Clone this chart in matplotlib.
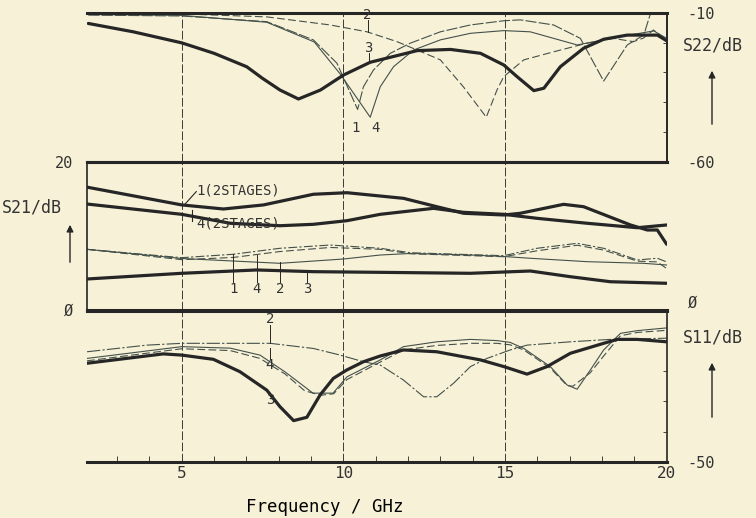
import matplotlib.pyplot as plt
from matplotlib.patches import FancyArrowPatch
from matplotlib.ticker import MultipleLocator

W, H = 756, 518

# ---- S22 (top panel), frequency in GHz, level in dB ----
s22_f3 = [2.11, 3.5, 5.0, 6.0, 7.01, 7.5, 8.04, 8.61, 9.29, 10.0, 10.83, 12.28, 13.31,
          14.24, 14.96, 15.37, 15.89, 16.2, 16.71, 17.43, 18.05, 18.78, 19.71, 20.0]
s22_db3 = [-13.6, -16.4, -20.1, -23.6, -28.1, -32.0, -35.9, -38.9, -35.9, -30.9, -26.6,
           -22.7, -22.3, -23.6, -27.5, -31.4, -36.1, -35.3, -28.1, -21.9, -18.9, -17.5,
           -17.5, -19.4]
s22_f1 = [2.11, 5.0, 7.63, 9.07, 9.8, 10.44, 10.62, 10.93, 11.45, 12.07, 13.0, 13.93,
          14.96, 15.47, 16.5, 17.33, 18.05, 18.78, 19.29, 19.5, 20.0]
s22_db1 = [-10.8, -11.1, -13.0, -19.1, -26.9, -42.4, -34.8, -29.2, -23.6, -20.2, -16.4,
           -14.1, -12.7, -12.4, -14.1, -18.6, -32.9, -20.8, -17.5, -10.2, -10.0]
s22_f4 = [2.11, 5.0, 7.63, 9.1, 9.9, 10.83, 11.14, 11.55, 12.17, 13.0, 13.93, 14.96,
          15.78, 17.23, 18.57, 19.6, 20.0]
s22_db4 = [-10.6, -10.9, -13.2, -19.8, -30.5, -45.0, -34.8, -28.1, -22.5, -19.1, -16.9,
           -16.0, -16.4, -20.8, -18.0, -16.1, -18.6]
s22_f2 = [2.11, 5.0, 7.63, 9.59, 10.73, 11.66, 12.28, 13.0, 13.71, 14.42, 14.75, 14.96,
          15.58, 16.5, 17.54, 18.35, 18.97, 19.28, 19.59, 20.0]
s22_db2 = [-10.4, -10.4, -11.4, -14.1, -16.4, -19.7, -22.5, -25.8, -34.8, -45.0, -35.9,
           -31.4, -25.8, -23.1, -20.2, -18.6, -19.7, -18.5, -15.8, -19.1]

# ---- S21 (middle panel) ----
s21_f1s = [2.07, 5.0, 6.29, 7.53, 9.07, 10.11, 11.86, 12.89, 13.72, 14.96, 15.47, 16.81,
           17.43, 18.88, 19.4, 19.71, 20.0]
s21_db1s = [16.6, 14.2, 13.65, 14.2, 15.64, 15.85, 15.09, 13.96, 13.07, 12.84, 13.07,
            14.28, 13.96, 11.49, 10.81, 10.81, 8.88]
s21_f4s = [2.07, 5.0, 6.5, 8.04, 9.07, 10.11, 11.14, 12.79, 13.71, 14.96, 15.99, 17.54,
           19.09, 20.0]
s21_db4s = [14.32, 12.93, 11.72, 11.39, 11.58, 12.07, 12.93, 13.74, 13.2, 12.93, 12.39,
            11.72, 11.12, 11.49]
s21_f3 = [2.07, 5.0, 7.32, 9.07, 11.14, 13.93, 15.78, 17.02, 18.26, 20.0]
s21_db3 = [4.19, 4.96, 5.41, 5.18, 5.09, 4.96, 5.27, 4.5, 3.82, 3.61]
s21_f1 = [2.07, 5.0, 6.59, 8.04, 9.59, 11.14, 12.07, 14.96, 15.99, 17.23, 18.05, 19.09,
          19.71, 20.0]
s21_db1 = [8.2, 7.07, 7.53, 8.34, 8.78, 8.34, 7.74, 7.34, 8.34, 9.01, 8.34, 6.76, 6.99, 6.5]
s21_f4 = [2.07, 5.0, 6.59, 8.04, 9.59, 11.14, 12.07, 14.96, 15.99, 17.23, 18.05, 19.09,
          19.71, 20.0]
s21_db4 = [8.2, 6.8, 7.1, 7.9, 8.45, 8.2, 7.6, 7.2, 8.0, 8.75, 8.1, 6.6, 6.5, 5.6]
s21_f2 = [2.07, 5.0, 6.59, 8.04, 10.0, 11.14, 12.07, 13.93, 14.96, 15.78, 17.54, 19.28, 20.0]
s21_db2 = [8.2, 6.96, 6.62, 6.31, 6.89, 7.43, 7.64, 7.43, 7.23, 6.99, 6.53, 6.31, 6.08]

# ---- S11 (bottom panel) ----
s11_f3 = [2.07, 4.43, 5.0, 5.98, 6.8, 7.63, 8.04, 8.46, 8.87, 9.28, 9.69, 10.11, 10.62,
          11.14, 11.86, 12.89, 14.24, 14.96, 15.68, 16.3, 17.02, 18.05, 18.47, 19.09, 20.0]
s11_db3 = [-17.4, -14.3, -14.7, -16.1, -20.2, -26.3, -31.8, -36.4, -35.3, -27.9, -22.4,
           -19.6, -16.9, -15.0, -13.0, -13.6, -16.3, -18.5, -21.0, -18.5, -14.1, -10.8,
           -9.5, -9.5, -10.3]
s11_f1 = [2.07, 5.0, 6.5, 7.42, 8.2, 9.06, 9.68, 10.11, 11.14, 11.86, 12.89, 13.93, 14.75,
          15.16, 15.58, 16.4, 16.92, 17.23, 17.64, 18.05, 18.57, 19.09, 20.0]
s11_db1 = [-15.8, -11.9, -12.4, -14.7, -20.3, -27.3, -27.3, -21.9, -16.3, -11.9, -10.3,
           -9.5, -9.9, -10.5, -12.5, -18.5, -24.6, -26.0, -19.6, -13.0, -7.5, -6.6, -5.7]
s11_f4 = [2.07, 5.0, 6.5, 7.42, 8.2, 8.8, 9.3, 9.7, 10.11, 11.14, 11.86, 12.89, 13.93,
          14.75, 15.16, 15.58, 16.4, 16.92, 17.1, 17.64, 18.05, 18.57, 19.09, 20.0]
s11_db4 = [-16.6, -12.6, -13.2, -15.8, -21.0, -26.5, -28.0, -27.5, -22.8, -17.0, -13.0,
           -11.5, -10.8, -10.8, -11.3, -13.0, -19.0, -24.8, -25.0, -20.5, -15.0, -8.3,
           -7.2, -6.5]
s11_f2 = [2.07, 3.92, 5.0, 7.73, 9.07, 9.9, 10.62, 11.14, 11.85, 12.48, 12.89, 13.41,
          13.93, 14.44, 15.16, 15.68, 17.02, 18.26, 20.0]
s11_db2 = [-13.6, -11.4, -10.8, -10.8, -12.5, -14.7, -16.9, -18.0, -22.9, -28.5, -28.5,
           -24.0, -18.5, -15.8, -13.0, -11.4, -10.3, -9.5, -9.1]

grid_f = [5, 10, 15]
xticks = [5, 10, 15, 20]

BG = '#f7f2d7'
INK = '#262626'
THIN = '#44504b'
plt.rcParams['font.family'] = 'DejaVu Sans Mono'
plt.rcParams['font.size'] = 11
plt.rcParams['text.color'] = '#333333'
plt.rcParams['xtick.color'] = '#333333'
plt.rcParams['ytick.color'] = '#333333'

fig = plt.figure(figsize=(W / 100, H / 100), dpi=100, facecolor=BG)


def box(top, bottom):
    left, right = 87, 666.7
    return [left / W, 1 - bottom / H, (right - left) / W, (bottom - top) / H]


ax1 = fig.add_axes(box(12.7, 162))
ax2 = fig.add_axes(box(162, 310))
ax3 = fig.add_axes(box(310.7, 461.7))

thick = dict(color=INK, lw=2.3, solid_capstyle='round')
thin = dict(color=THIN, lw=0.8)

for ax in (ax1, ax2, ax3):
    ax.set_facecolor('none')
    ax.set_xlim(2.07, 20)
    for f in grid_f:
        ax.axvline(f, color='#3a3a3a', lw=0.7, ls=(0, (9, 2.5)), zorder=0)
    for s in ax.spines.values():
        s.set_color(INK)
    ax.tick_params(axis='x', which='both', bottom=False, labelbottom=False)

# top panel: S22
ax1.set_ylim(-60, -10)
ax1.plot(s22_f2, s22_db2, ls=(0, (7, 3)), **thin)
ax1.plot(s22_f1, s22_db1, ls=(0, (10, 2)), **thin)
ax1.plot(s22_f4, s22_db4, **thin)
ax1.plot(s22_f3, s22_db3, **thick)
ax1.spines['left'].set_visible(False)
ax1.spines['top'].set_linewidth(2.2)
ax1.spines['right'].set_linewidth(1.4)
ax1.spines['bottom'].set_linewidth(2.2)
ax1.yaxis.tick_right()
ax1.set_yticks([-60, -10], ['-60', '-10'])
ax1.yaxis.set_minor_locator(MultipleLocator(10))
ax1.tick_params(axis='y', which='major', length=0, pad=15)
ax1.tick_params(axis='y', which='minor', direction='in', length=3, color=INK)
ax1.text(10.75, -10.9, '2', ha='center', va='center', fontsize=10)
ax1.plot([10.75, 10.75], [-12.4, -16.3], color=INK, lw=0.7)
ax1.text(10.77, -21.9, '3', ha='center', va='center', fontsize=10)
ax1.plot([10.8, 10.8], [-23.6, -26.4], color=INK, lw=0.7)
ax1.text(10.37, -48.6, '1', ha='center', va='center', fontsize=10)
ax1.text(11.0, -48.6, '4', ha='center', va='center', fontsize=10)

# middle panel: S21
ax2.set_ylim(0, 20)
ax2.plot(s21_f2, s21_db2, **thin)
ax2.plot(s21_f4, s21_db4, ls=(0, (7, 3)), **thin)
ax2.plot(s21_f1, s21_db1, ls=(0, (8, 2, 2, 2)), **thin)
ax2.plot(s21_f3, s21_db3, **thick)
ax2.plot(s21_f1s, s21_db1s, **thick)
ax2.plot(s21_f4s, s21_db4s, **thick)
ax2.spines['right'].set_visible(False)
ax2.spines['top'].set_linewidth(2.2)
ax2.spines['bottom'].set_linewidth(2.2)
ax2.spines['left'].set_linewidth(1.2)
ax2.set_yticks([0, 20], ['Ø', '20'])
ax2.tick_params(axis='y', length=0, pad=10)
ax2.text(5.45, 16.2, '1(2STAGES)', ha='left', va='center', fontsize=10)
ax2.plot([5.1, 5.45], [14.3, 16.0], color=INK, lw=0.8)
ax2.text(5.45, 11.7, '4(2STAGES)', ha='left', va='center', fontsize=10)
ax2.plot([5.32, 5.32], [13.5, 12.0], color=INK, lw=0.8)
for lab, f, y0 in [('1', 6.6, 7.6), ('4', 7.32, 7.5), ('2', 8.04, 6.45), ('3', 8.87, 5.4)]:
    ax2.text(f, 2.9, lab, ha='center', va='center', fontsize=10)
    ax2.plot([f, f], [y0, 3.8], color=INK, lw=0.7)

# bottom panel: S11
ax3.set_ylim(-50, 0)
ax3.plot(s11_f2, s11_db2, ls=(0, (12, 2, 2, 2)), **thin)
ax3.plot(s11_f4, s11_db4, ls=(0, (7, 3)), **thin)
ax3.plot(s11_f1, s11_db1, **thin)
ax3.plot(s11_f3, s11_db3, **thick)
ax3.spines['left'].set_visible(False)
ax3.spines['top'].set_linewidth(2.2)
ax3.spines['bottom'].set_linewidth(2.2)
ax3.spines['right'].set_linewidth(1.2)
ax3.yaxis.tick_right()
ax3.set_yticks([-50, 0], ['-50', 'Ø'])
ax3.yaxis.set_minor_locator(MultipleLocator(10))
ax3.tick_params(axis='y', which='major', length=0, pad=15)
ax3.tick_params(axis='y', which='minor', direction='in', length=3, color=INK)
ax3.get_yticklabels()[1].set_va('bottom')
ax3.tick_params(axis='x', which='both', bottom=True, labelbottom=True)
ax3.set_xticks(xticks, [str(v) for v in xticks])
ax3.xaxis.set_minor_locator(MultipleLocator(1))
ax3.tick_params(axis='x', which='major', length=0, pad=3, labelsize=11.5)
ax3.tick_params(axis='x', which='minor', direction='in', length=4, color=INK)
ax3.text(7.73, -2.6, '2', ha='center', va='center', fontsize=10)
ax3.plot([7.73, 7.73], [-4.6, -10.8], color=INK, lw=0.7)
ax3.text(7.73, -18.0, '4', ha='center', va='center', fontsize=10)
ax3.plot([7.73, 7.73], [-12.5, -16.0], color=INK, lw=0.7)
ax3.text(7.73, -29.6, '3', ha='center', va='center', fontsize=10)
ax3.set_xlabel('Frequency / GHz', labelpad=12, x=0.41, fontsize=12.5)

# axis captions and arrows
fig.text(683 / W, 1 - 45 / H, 'S22/dB', ha='left', va='center', fontsize=12)
fig.text(683 / W, 1 - 337 / H, 'S11/dB', ha='left', va='center', fontsize=12)
fig.text(2 / W, 1 - 207 / H, 'S21/dB', ha='left', va='center', fontsize=12)
arrow = dict(arrowstyle='-|>', color=INK, lw=1.0, mutation_scale=10)
for x, y0, y1 in [(712, 127, 68), (712, 420, 360), (70, 265, 222)]:
    fig.add_artist(FancyArrowPatch((x / W, 1 - y0 / H), (x / W, 1 - y1 / H),
                                   transform=fig.transFigure, **arrow))

fig.savefig('out.png', dpi=100, facecolor=BG)
